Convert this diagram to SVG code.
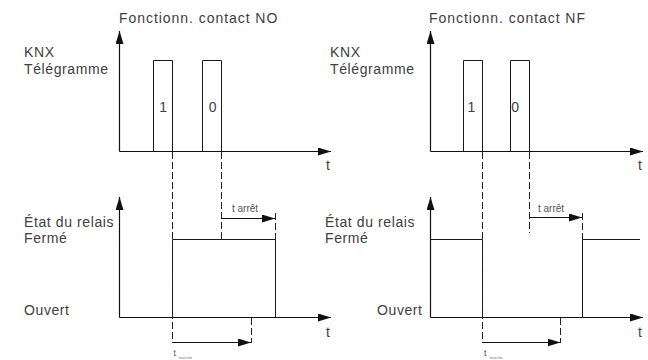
<svg xmlns="http://www.w3.org/2000/svg" width="648" height="360" viewBox="0 0 648 360">
  <defs>
    <marker id="head" viewBox="0 0 13 8" refX="13" refY="4" markerWidth="13" markerHeight="8" markerUnits="userSpaceOnUse" orient="auto">
      <path d="M0,0 L13,4 L0,8 Z" fill="#111"/>
    </marker>
    <style>
      .lbl { font-family: "Liberation Sans", Arial, sans-serif; font-size: 14px; fill: #404040; letter-spacing: 0.6px; }
      .ttl { font-family: "Liberation Sans", Arial, sans-serif; font-size: 14px; fill: #404040; letter-spacing: 0.95px; }
      .small { font-family: "Liberation Sans", Arial, sans-serif; font-size: 10px; fill: #555; }
      .tiny { font-family: "Liberation Sans", Arial, sans-serif; font-size: 9px; fill: #555; }
      .sub { font-family: "Liberation Sans", Arial, sans-serif; font-size: 4px; fill: #777; }
      .axis { fill: none; stroke: #111; stroke-width: 1.2; }
      .sig { fill: none; stroke: #1a1a1a; stroke-width: 1; }
      .dash { fill: none; stroke: #222; stroke-width: 1; stroke-dasharray: 7 3; }
      .arr { fill: none; stroke: #111; stroke-width: 1.2; }
    </style>
  </defs>

  <!-- NO contact: telegram chart -->
  <g id="no-telegram">
    <text class="ttl" x="119" y="23">Fonctionn. contact NO</text>
    <text class="lbl" x="24" y="57">KNX</text>
    <text class="lbl" x="24" y="74">Télégramme</text>
    <path class="axis" d="M119.5,151.5 V31" marker-end="url(#head)"/>
    <path class="axis" d="M119.5,151.5 H331" marker-end="url(#head)"/>
    <text class="lbl" x="326" y="170">t</text>
    <path class="sig" d="M153.5,151.5 V60.5 H172.5 V151.5"/>
    <path class="sig" d="M202.5,151.5 V60.5 H221.5 V151.5"/>
    <text class="lbl" x="163.5" y="112" text-anchor="middle">1</text>
    <text class="lbl" x="213" y="112" text-anchor="middle">0</text>
  </g>

  <!-- NO contact: relay state chart -->
  <g id="no-relay">
    <text class="lbl" x="24" y="226.5">État du relais</text>
    <text class="lbl" x="24" y="243">Fermé</text>
    <text class="lbl" x="24" y="315">Ouvert</text>
    <path class="axis" d="M119.5,317.5 V197" marker-end="url(#head)"/>
    <path class="axis" d="M119.5,317.5 H331" marker-end="url(#head)"/>
    <text class="lbl" x="326" y="337">t</text>
    <path class="sig" d="M172.5,317.5 V239.5 H275.5 V317.5"/>
  </g>

  <!-- NF contact: telegram chart -->
  <g id="nf-telegram">
    <text class="ttl" x="429" y="23">Fonctionn. contact NF</text>
    <text class="lbl" x="330" y="57">KNX</text>
    <text class="lbl" x="330" y="74">Télégramme</text>
    <path class="axis" d="M430.5,151.5 V31" marker-end="url(#head)"/>
    <path class="axis" d="M430.5,151.5 H643" marker-end="url(#head)"/>
    <text class="lbl" x="638" y="170">t</text>
    <path class="sig" d="M463.5,151.5 V60.5 H482.5 V151.5"/>
    <path class="sig" d="M510.5,151.5 V60.5 H529.5 V151.5"/>
    <text class="lbl" x="471.7" y="112" text-anchor="middle">1</text>
    <text class="lbl" x="515.5" y="112" text-anchor="middle">0</text>
  </g>

  <!-- NF contact: relay state chart -->
  <g id="nf-relay">
    <text class="lbl" x="325" y="226.5">État du relais</text>
    <text class="lbl" x="325" y="243">Fermé</text>
    <text class="lbl" x="377" y="315">Ouvert</text>
    <path class="axis" d="M430.5,317.5 V197" marker-end="url(#head)"/>
    <path class="axis" d="M430.5,317.5 H643" marker-end="url(#head)"/>
    <text class="lbl" x="638" y="337">t</text>
    <path class="sig" d="M430.5,239.5 H482.5 V317.5"/>
    <path class="sig" d="M582.5,317.5 V239.5 H640"/>
  </g>

  <!-- timing guides and delay arrows -->
  <g id="connectors">
    <!-- NO side -->
    <path class="dash" d="M172.5,152 V343"/>
    <path class="dash" d="M221.5,152 V239.5"/>
    <path class="dash" d="M275.5,213 V239.5"/>
    <path class="dash" d="M251.5,318 V343"/>
    <path class="arr" d="M221.5,218.5 H275" marker-end="url(#head)"/>
    <path class="arr" d="M172.5,342.5 H251" marker-end="url(#head)"/>
    <!-- NF side -->
    <path class="dash" d="M482.5,152 V343"/>
    <path class="dash" d="M529.5,152 V233"/>
    <path class="dash" d="M582.5,213 V239.5"/>
    <path class="dash" d="M560.5,318 V343"/>
    <path class="arr" d="M529.5,217.5 H582" marker-end="url(#head)"/>
    <path class="arr" d="M482.5,342.5 H560.5" marker-end="url(#head)"/>
  </g>

  <!-- delay labels -->
  <g id="delay-labels">
    <text class="small" x="232" y="212">t arrêt</text>
    <text class="small" x="538" y="212">t arrêt</text>
    <text class="tiny" x="173.5" y="356">t</text>
    <text class="sub" x="179" y="358.5">marche</text>
    <text class="tiny" x="484" y="356">t</text>
    <text class="sub" x="489.5" y="358.5">marche</text>
  </g>
</svg>
